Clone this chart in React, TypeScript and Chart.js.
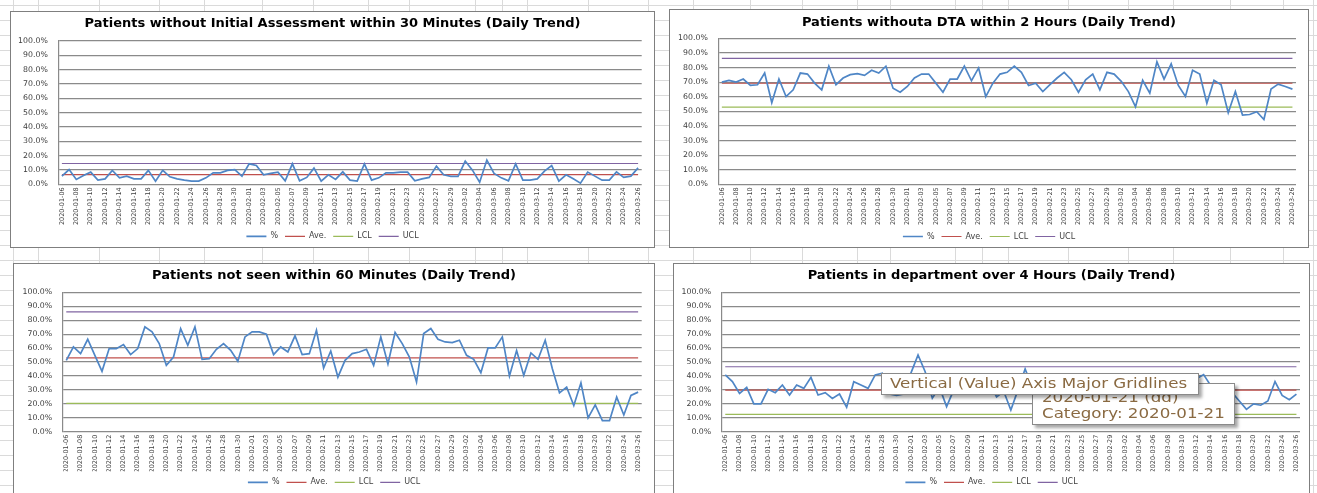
import React, { useEffect, useRef } from 'react';
import { Chart, registerables } from 'chart.js';

Chart.register(...registerables);

// ---------- data ----------
const DATES = [
  '2020-01-06', '2020-01-07', '2020-01-08', '2020-01-09', '2020-01-10', '2020-01-11', '2020-01-12', '2020-01-13',
  '2020-01-14', '2020-01-15', '2020-01-16', '2020-01-17', '2020-01-18', '2020-01-19', '2020-01-20', '2020-01-21',
  '2020-01-22', '2020-01-23', '2020-01-24', '2020-01-25', '2020-01-26', '2020-01-27', '2020-01-28', '2020-01-29',
  '2020-01-30', '2020-01-31',
  '2020-02-01', '2020-02-02', '2020-02-03', '2020-02-04', '2020-02-05', '2020-02-06', '2020-02-07', '2020-02-08',
  '2020-02-09', '2020-02-10', '2020-02-11', '2020-02-12', '2020-02-13', '2020-02-14', '2020-02-15', '2020-02-16',
  '2020-02-17', '2020-02-18', '2020-02-19', '2020-02-20', '2020-02-21', '2020-02-22', '2020-02-23', '2020-02-24',
  '2020-02-25', '2020-02-26', '2020-02-27', '2020-02-28', '2020-02-29',
  '2020-03-01', '2020-03-02', '2020-03-03', '2020-03-04', '2020-03-05', '2020-03-06', '2020-03-07', '2020-03-08',
  '2020-03-09', '2020-03-10', '2020-03-11', '2020-03-12', '2020-03-13', '2020-03-14', '2020-03-15', '2020-03-16',
  '2020-03-17', '2020-03-18', '2020-03-19', '2020-03-20', '2020-03-21', '2020-03-22', '2020-03-23', '2020-03-24',
  '2020-03-25', '2020-03-26',
];

const LEGEND_LABELS = ['%', 'Ave.', 'LCL', 'UCL'];
const SERIES_COLORS = ['#4f86c6', '#c0504d', '#9bbb59', '#8064a2'];

const IA30_TITLE = 'Patients without Initial Assessment within 30 Minutes (Daily Trend)';
const IA30_PCT = [
  5.7, 10.3, 3.4, 6.2, 8.5, 2.9, 3.8, 9.7, 4.5, 5.7,
  3.8, 3.8, 9.7, 2.2, 9.7, 5.2, 3.8, 2.9, 2.2, 2.2,
  4.5, 8.0, 8.0, 9.7, 10.3, 5.7, 14.3, 13.1, 6.6, 7.6,
  8.5, 2.4, 14.3, 2.4, 4.8, 11.3, 2.2, 6.6, 3.4, 8.7,
  2.9, 2.2, 14.3, 2.9, 4.5, 8.0, 8.0, 8.5, 8.5, 2.4,
  3.8, 4.8, 12.7, 6.6, 5.5, 5.5, 16.2, 9.9, 1.5, 16.9,
  7.6, 4.5, 2.4, 14.3, 2.9, 2.9, 3.8, 9.2, 13.1, 2.2,
  6.6, 3.8, 0.8, 8.5, 5.7, 2.9, 2.9, 8.7, 4.8, 5.7, 11.5,
];
const IA30_LIMITS = [6.8, -1.0, 14.5]; // Ave., LCL, UCL

const DTA2H_TITLE = 'Patients withouta DTA within 2 Hours (Daily Trend)';
const DTA2H_PCT = [
  70.0, 71.2, 70.0, 72.1, 67.7, 68.2, 76.2, 55.9, 72.1, 60.1,
  64.7, 76.2, 75.5, 69.3, 64.7, 80.9, 68.2, 72.8, 75.1, 75.8,
  74.6, 78.1, 76.2, 80.9, 65.8, 63.1, 67.0, 72.8, 75.5, 75.5,
  69.3, 63.1, 72.1, 72.1, 80.9, 70.9, 79.7, 60.1, 69.3, 75.5,
  76.7, 80.9, 76.7, 67.7, 69.3, 63.5, 68.2, 72.8, 76.7, 71.6,
  63.1, 71.6, 75.5, 64.7, 76.7, 75.5, 70.5, 63.5, 53.1, 71.2,
  62.4, 83.9, 72.1, 82.5, 67.7, 60.1, 78.1, 75.5, 55.5, 71.2,
  68.2, 49.0, 63.5, 47.4, 47.8, 49.7, 44.4, 65.2, 68.6, 67.0, 65.2,
];
const DTA2H_LIMITS = [69.2, 52.8, 86.2];

const SEEN60_TITLE = 'Patients not seen within 60 Minutes (Daily Trend)';
const SEEN60_PCT = [
  51.2, 60.8, 56.0, 66.3, 54.8, 43.3, 59.6, 59.6, 62.5, 55.3,
  59.6, 75.2, 71.6, 63.2, 47.6, 53.6, 74.0, 62.0, 75.2, 51.9,
  52.4, 59.1, 63.2, 58.4, 50.5, 68.0, 71.6, 71.6, 70.0, 55.3,
  60.8, 57.2, 68.8, 55.3, 56.0, 72.8, 45.7, 57.9, 39.2, 51.2,
  56.0, 57.2, 59.1, 47.6, 68.0, 48.6, 71.2, 63.2, 53.6, 35.6,
  70.4, 74.0, 66.3, 64.4, 63.9, 65.6, 54.8, 51.9, 42.3, 60.1,
  60.1, 68.0, 39.9, 58.2, 40.4, 56.5, 51.9, 65.6, 45.2, 27.9,
  32.0, 18.8, 35.1, 9.9, 19.2, 7.9, 7.9, 24.8, 12.0, 26.0, 28.4,
];
const SEEN60_LIMITS = [53.0, 20.3, 86.0];

const DEPT4H_TITLE = 'Patients in department over 4 Hours (Daily Trend)';
const DEPT4H_PCT = [
  40.7, 35.9, 27.5, 31.8, 19.9, 19.9, 30.4, 28.0, 33.5, 26.3,
  33.5, 31.1, 39.0, 26.3, 28.0, 23.9, 27.0, 17.5, 35.9, 33.5,
  31.1, 40.7, 41.9, 27.0, 26.0, 27.0, 42.0, 55.0, 43.0, 24.0,
  32.0, 18.0, 30.0, 34.0, 38.0, 31.0, 29.0, 35.0, 25.0, 29.0,
  15.5, 30.0, 45.0, 32.0, 28.0, 35.0, 30.0, 26.0, 33.0, 37.0,
  29.0, 31.0, 27.0, 34.0, 30.0, 36.0, 28.0, 32.0, 38.0, 30.0,
  27.0, 33.0, 35.0, 29.0, 31.0, 36.0, 38.0, 41.0, 33.0, 30.0,
  27.0, 28.0, 22.0, 16.0, 20.0, 19.0, 22.0, 36.0, 26.0, 23.0, 27.0,
];
const DEPT4H_LIMITS = [29.8, 12.4, 46.6];

const TOOLTIP_MAIN = 'Vertical (Value) Axis Major Gridlines';
const TOOLTIP_LINES = ['2020-01-21 (dd)', 'Category: 2020-01-21'];

// ---------- layout (page / canvas geometry) ----------
const PANELS = [
  {
    title: IA30_TITLE, pct: IA30_PCT, limits: IA30_LIMITS,
    box: { left: 10, top: 11, width: 645, height: 237 },
    plot: { left: 47.3, right: 630.7, top: 29, bottom: 172.3 },
    titleY: 12, legendY: 224.3,
  },
  {
    title: DTA2H_TITLE, pct: DTA2H_PCT, limits: DTA2H_LIMITS,
    box: { left: 669, top: 9, width: 640, height: 239 },
    plot: { left: 48.3, right: 626, top: 28.3, bottom: 174.3 },
    titleY: 12.7, legendY: 226.5,
  },
  {
    title: SEEN60_TITLE, pct: SEEN60_PCT, limits: SEEN60_LIMITS,
    box: { left: 13, top: 263, width: 642, height: 240 },
    plot: { left: 48.7, right: 627.7, top: 28.3, bottom: 167.7 },
    titleY: 12, legendY: 218.3,
  },
  {
    title: DEPT4H_TITLE, pct: DEPT4H_PCT, limits: DEPT4H_LIMITS,
    box: { left: 673, top: 263, width: 637, height: 240 },
    plot: { left: 47.7, right: 626, top: 28.3, bottom: 167.7 },
    titleY: 12, legendY: 218.3,
  },
];

const SHEET_COLS = [13, 38, 99, 159, 204, 262, 313, 368, 409, 475, 502, 527, 588, 648, 693, 750, 802, 857, 890, 955, 982, 1008, 1068, 1128, 1173, 1230, 1283, 1313];

const SIDE_PAD = 3;
const TITLE_FS = 13;
const TICK_FS = 7.8;
const XTICK_FS = 6.5;
const LEG_FS = 8;
const LEG_PAD = 7;

function ChartPanel({ spec }: { spec: any }) {
  const ref = useRef<HTMLCanvasElement | null>(null);
  const cw = spec.box.width - 2;
  const ch = spec.box.height - 2;

  useEffect(() => {
    if (!ref.current) return;
    const legendH = LEG_FS + LEG_PAD + 10;
    const padBottom = ch - (legendH - LEG_PAD - LEG_FS / 2) - spec.legendY;
    const legendTop = ch - padBottom - legendH;
    const titleLine = TITLE_FS * 1.2;
    const titleTop = spec.titleY - titleLine / 2;
    const titleBottom = spec.plot.top - titleTop - titleLine;
    const [ave, lcl, ucl] = spec.limits;
    const mk = (i: number, data: number[], w: number) => ({
      label: LEGEND_LABELS[i],
      data,
      yAxisID: 'y',
      borderColor: SERIES_COLORS[i],
      backgroundColor: SERIES_COLORS[i],
      borderWidth: w,
      pointRadius: 0,
      pointHoverRadius: 0,
      tension: 0,
      fill: false,
      clip: 0,
    });
    const chart = new Chart(ref.current, {
      type: 'line',
      data: {
        labels: DATES,
        datasets: [
          mk(0, spec.pct, 1.7),
          mk(1, DATES.map(() => ave), 1.2),
          mk(2, DATES.map(() => lcl), 1.2),
          mk(3, DATES.map(() => ucl), 1.2),
        ],
      },
      options: {
        animation: false,
        responsive: false,
        maintainAspectRatio: false,
        events: [],
        layout: { padding: { left: SIDE_PAD, right: SIDE_PAD, top: 0, bottom: padBottom } },
        plugins: {
          title: {
            display: true,
            text: spec.title,
            color: '#000',
            font: { family: 'DejaVu Sans', size: TITLE_FS, weight: 'bold' },
            padding: { top: titleTop, bottom: titleBottom },
          },
          legend: {
            display: true,
            position: 'bottom',
            labels: {
              usePointStyle: true,
              pointStyle: 'line',
              pointStyleWidth: 20,
              padding: LEG_PAD,
              color: '#404040',
              font: { family: 'DejaVu Sans', size: LEG_FS },
            },
          },
          tooltip: { enabled: false },
        },
        scales: {
          x: {
            type: 'category',
            offset: true,
            grid: { display: false, drawTicks: false },
            border: { display: false },
            ticks: {
              autoSkip: false,
              minRotation: 90,
              maxRotation: 90,
              padding: 3,
              color: '#404040',
              font: { family: 'DejaVu Sans', size: XTICK_FS },
              callback: (_v: any, i: number) => (i % 2 === 0 ? DATES[i] : ''),
            },
            afterFit: (s: any) => { s.height = legendTop - spec.plot.bottom; },
          },
          y: {
            position: 'left',
            min: 0,
            max: 100,
            grid: { color: '#8a8a8a', lineWidth: 1.2, drawTicks: false },
            border: { display: true, color: '#8a8a8a', width: 1.2 },
            ticks: {
              stepSize: 10,
              padding: 10.5,
              color: '#404040',
              font: { family: 'DejaVu Sans', size: TICK_FS },
              callback: (v: any) => Number(v).toFixed(1) + '%',
            },
            afterFit: (s: any) => { s.width = spec.plot.left - SIDE_PAD; },
          },
          yRightGap: {
            type: 'linear',
            position: 'right',
            display: true,
            grid: { display: false, drawTicks: false },
            border: { display: false },
            ticks: { display: false },
            afterFit: (s: any) => { s.width = cw - SIDE_PAD - spec.plot.right; },
          },
        },
      },
    } as any);
    return () => chart.destroy();
  }, []);

  return (
    <div
      style={{
        position: 'absolute',
        left: spec.box.left,
        top: spec.box.top,
        width: spec.box.width,
        height: spec.box.height,
        boxSizing: 'border-box',
        border: '1px solid #7f7f7f',
        background: '#fff',
      }}
    >
      <canvas ref={ref} width={cw} height={ch} style={{ display: 'block', width: cw, height: ch }} />
    </div>
  );
}

function SheetGrid() {
  const rows: number[] = [];
  for (let y = 5; y < 493; y += 15) rows.push(y);
  return (
    <>
      {SHEET_COLS.map((x) => (
        <div key={'c' + x} style={{ position: 'absolute', left: x, top: 0, width: 1, height: 493, background: '#dadada' }} />
      ))}
      {rows.map((y) => (
        <div key={'r' + y} style={{ position: 'absolute', left: 0, top: y, width: 1317, height: 1, background: '#dadada' }} />
      ))}
    </>
  );
}

const tipText: React.CSSProperties = {
  position: 'absolute',
  whiteSpace: 'nowrap',
  fontFamily: 'DejaVu Sans, sans-serif',
  fontSize: 14.5,
  lineHeight: '16px',
  color: '#8a6a42',
  transform: 'scaleX(1.15)',
  transformOrigin: 'left center',
};

function HoverTips() {
  return (
    <>
      <div
        style={{
          position: 'absolute', left: 1032, top: 383, width: 203, height: 42, boxSizing: 'border-box',
          background: '#fff', border: '1px solid #8a8a8a', boxShadow: '3px 3px 3px rgba(0,0,0,0.35)',
        }}
      >
        <div style={{ ...tipText, left: 9, top: 4.5 }}>{TOOLTIP_LINES[0]}</div>
        <div style={{ ...tipText, left: 9, top: 20.5 }}>{TOOLTIP_LINES[1]}</div>
      </div>
      <div
        style={{
          position: 'absolute', left: 881, top: 373, width: 318, height: 22, boxSizing: 'border-box',
          background: '#fff', border: '1px solid #8a8a8a', boxShadow: '3px 3px 3px rgba(0,0,0,0.35)',
        }}
      >
        <div style={{ ...tipText, left: 8, top: 1 }}>{TOOLTIP_MAIN}</div>
      </div>
    </>
  );
}

export default function App() {
  return (
    <div style={{ position: 'absolute', left: 0, top: 0, width: 1317, height: 493, overflow: 'hidden', background: '#fff' }}>
      <SheetGrid />
      {PANELS.map((p, i) => (
        <ChartPanel key={i} spec={p} />
      ))}
      <HoverTips />
    </div>
  );
}
